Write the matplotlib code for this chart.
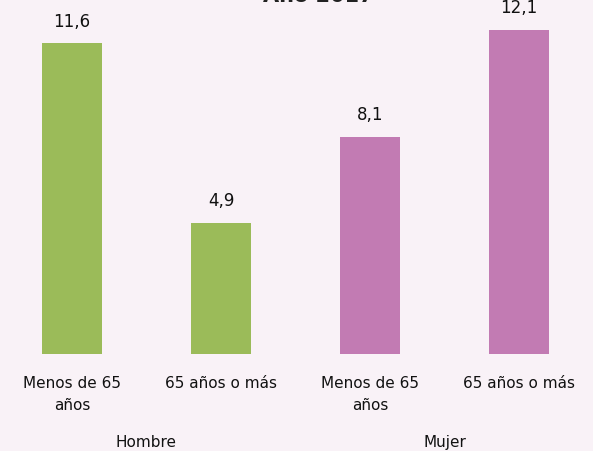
import numpy as np
import matplotlib
matplotlib.use('Agg')
import matplotlib.pyplot as plt

categories = ['Menos de 65\naños', '65 años o más', 'Menos de 65\naños', '65 años o más']
groups = ['Hombre', 'Mujer']
values = [11.6, 4.9, 8.1, 12.1]
value_labels = ['11,6', '4,9', '8,1', '12,1']
colors = ['#9BBB59', '#9BBB59', '#C27BB3', '#C27BB3']
bg = '#F9F2F7'

plt.rcParams['font.family'] = ['DejaVu Sans']

fig = plt.figure(figsize=(5.93, 4.51), dpi=100, facecolor=bg)
ax = fig.add_axes([0, 1 - 354 / 451, 1, 354 / 451])
ax.set_facecolor(bg)

x = np.arange(len(values))
ax.bar(x, values, width=0.403, color=colors)
for xi, v, lab in zip(x, values, value_labels):
    ax.annotate(lab, (xi, v), xytext=(0, 9), textcoords='offset points',
                ha='center', va='bottom', fontsize=12, color='#111111')

ax.set_xlim(-0.483, 3.497)
ax.set_ylim(0, 13.21)
for s in ax.spines.values():
    s.set_visible(False)
ax.set_yticks([])
ax.set_xticks(x)
ax.set_xticklabels(categories, fontsize=11, color='#111111', linespacing=1.6)
ax.tick_params(axis='x', length=0, pad=16)

# group labels
for gi, g in enumerate(groups):
    cx = (x[2 * gi] + x[2 * gi + 1]) / 2
    ax.annotate(g, (cx, 0), xycoords=('data', 'axes fraction'),
                xytext=(0, -67), textcoords='offset points',
                ha='center', va='baseline', fontsize=11, color='#111111')

# title sits mostly above the top edge, as in the source image
fig.text(318 / 593, 1 - 2 / 451, 'Año 2017', ha='center', va='baseline',
         fontsize=15, fontweight='bold', color='#222222')

plt.savefig('out.png', dpi=100, facecolor=bg)
plt.close()
